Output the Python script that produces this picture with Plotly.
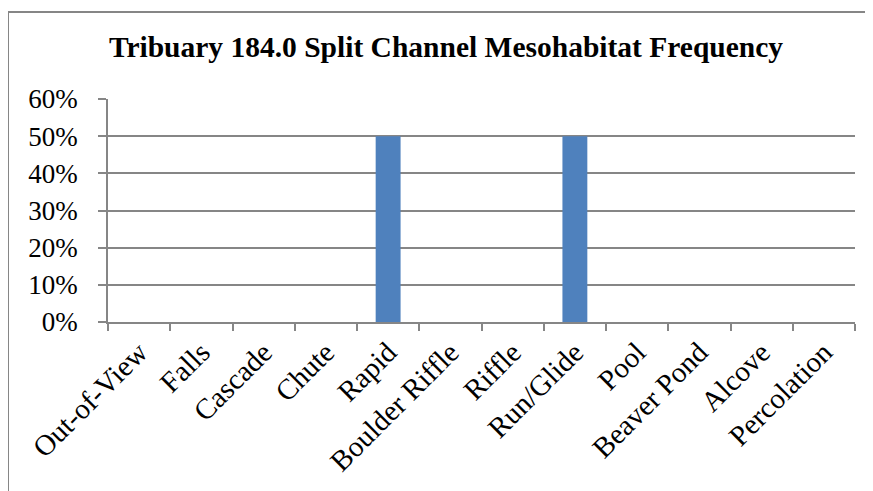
import plotly.graph_objects as go

categories = ["Out-of-View", "Falls", "Cascade", "Chute", "Rapid", "Boulder Riffle",
              "Riffle", "Run/Glide", "Pool", "Beaver Pond", "Alcove", "Percolation"]
values = [0, 0, 0, 0, 0.5, 0, 0, 0.5, 0, 0, 0, 0]
y_ticks = [0, 0.1, 0.2, 0.3, 0.4, 0.5, 0.6]
y_tick_labels = ["0%", "10%", "20%", "30%", "40%", "50%", "60%"]

# page body adds an 8px offset; figure coords = screen coords - 8
OFF = 8
W, H = 873, 491
L, T = 108 - OFF, 99 - OFF
R = W - (855 - OFF)
B = H - (322 - OFF)
pw, ph = W - L - R, H - T - B

def px_x(p):
    return (p - OFF - L) / pw

def px_y(p):
    return (H - B - (p - OFF)) / ph

fig = go.Figure(go.Bar(x=categories, y=values, marker_color="#4F81BD", marker_line_width=0))

frame_line = dict(color="#868686", width=2)
fig.update_layout(
    width=W, height=H,
    margin=dict(l=L, r=R, t=T, b=B),
    paper_bgcolor="white", plot_bgcolor="white",
    bargap=0.6,
    showlegend=False,
    font=dict(family="Liberation Serif", color="black"),
    title=dict(text="<b>Tribuary 184.0 Split Channel Mesohabitat Frequency</b>",
               x=(446 - OFF) / W, xanchor="center", y=1 - (47 - OFF) / H, yanchor="middle",
               font=dict(size=29.5, family="Liberation Serif", color="black")),
    xaxis=dict(
        tickangle=-45, tickfont=dict(size=29), showgrid=False,
        showline=True, linecolor="#868686", linewidth=1.5,
        ticks="outside", tickson="boundaries", ticklen=7, tickcolor="#868686", tickwidth=1.5,
    ),
    yaxis=dict(
        range=[0, 0.6], tickvals=y_ticks, ticktext=y_tick_labels,
        tickfont=dict(size=27), showgrid=True, gridcolor="#868686", gridwidth=1.5,
        showline=True, linecolor="#868686", linewidth=1.5, zeroline=False,
        ticks="outside", ticklen=8, tickcolor="#868686", tickwidth=1.5,
        ticklabelstandoff=15,
    ),
    shapes=[
        dict(type="line", xref="paper", yref="paper",
             x0=px_x(8), x1=px_x(900), y0=px_y(12), y1=px_y(12), line=frame_line, layer="below"),
        dict(type="line", xref="paper", yref="paper",
             x0=px_x(8), x1=px_x(8), y0=px_y(12), y1=px_y(520), line=frame_line, layer="below"),
    ],
)

fig.write_html("out.html")
